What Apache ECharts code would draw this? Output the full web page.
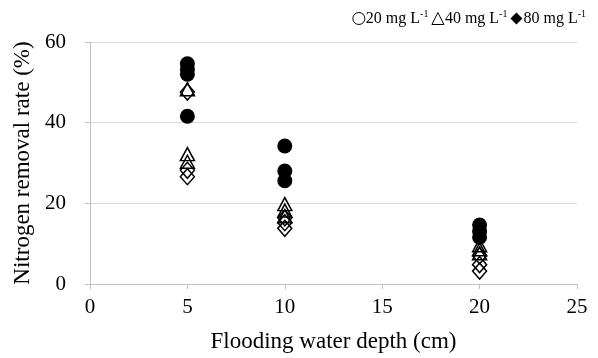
<!DOCTYPE html>
<html>
<head>
<meta charset="utf-8">
<script src="https://cdn.jsdelivr.net/npm/echarts@6/dist/echarts.min.js"></script>
<style>html,body{margin:0;padding:0;background:#fff}#c{width:598px;height:358px}</style>
</head>
<body>
<div id="c"></div>
<script>
const depths = [5, 10, 20];
const legendNames = ['20 mg L-1', '40 mg L-1', '80 mg L-1'];
// replicate values per depth (rows follow depths)
const circleRates = [[54.6, 53.2, 52.0, 41.6], [34.2, 28.0, 25.6], [14.6, 13.0, 11.6]];
const triangleRates = [[48.3, 32.2, 30.3], [19.8, 18.2, 16.8], [9.6, 8.6, 7.6]];
const diamondRates = [[47.6, 28.2, 26.6], [16.4, 15.2, 13.8], [7.0, 4.8, 3.2]];
const xTicks = [0, 5, 10, 15, 20, 25];
const yTicks = [0, 20, 40, 60];

function pairs(rows) {
  const out = [];
  rows.forEach((vals, i) => vals.forEach(v => out.push([depths[i], v])));
  return out;
}
const serif = '"Liberation Serif", "Times New Roman", serif';
const chart = echarts.init(document.getElementById('c'), null, {renderer: 'canvas'});
chart.setOption({
  animation: false,
  grid: {left: 90, right: 21, top: 42, bottom: 66},
  legend: {
    right: 7, top: 4, itemWidth: 12, itemHeight: 12, itemGap: 3,
    data: [
      {name: legendNames[0], icon: 'circle', itemStyle: {color: '#fff', borderColor: '#000', borderWidth: 1}},
      {name: legendNames[1], icon: 'triangle', itemStyle: {color: '#fff', borderColor: '#000', borderWidth: 1}},
      {name: legendNames[2], icon: 'diamond', itemStyle: {color: '#000', borderColor: '#000', borderWidth: 0}}
    ],
    formatter: n => n.replace('-1', '') + '{sup|-1}',
    textStyle: {fontFamily: serif, fontSize: 16, color: '#000', padding: [0, 0, 0, -4],
      rich: {sup: {fontFamily: serif, fontSize: 10, color: '#000', verticalAlign: 'top', padding: [0, 0, 9, 0]}}}
  },
  xAxis: {
    type: 'value', min: 0, max: 25, interval: 5,
    name: 'Flooding water depth (cm)', nameLocation: 'middle', nameGap: 46,
    nameTextStyle: {fontFamily: serif, fontSize: 23, color: '#000'},
    axisLine: {show: true, lineStyle: {color: '#bfbfbf', width: 1}},
    axisTick: {show: true, inside: false, length: 5, lineStyle: {color: '#bfbfbf'}},
    axisLabel: {fontFamily: serif, fontSize: 21, color: '#000', margin: 13,
      formatter: v => xTicks.includes(v) ? String(v) : ''},
    splitLine: {show: false}
  },
  yAxis: {
    type: 'value', min: 0, max: 60, interval: 20,
    name: 'Nitrogen removal rate (%)', nameLocation: 'middle', nameGap: 46,
    nameTextStyle: {fontFamily: serif, fontSize: 23, color: '#000'},
    axisLine: {show: true, lineStyle: {color: '#bfbfbf', width: 1}},
    axisTick: {show: true, inside: false, length: 5, lineStyle: {color: '#bfbfbf'}},
    axisLabel: {fontFamily: serif, fontSize: 21, color: '#000', margin: 24,
      formatter: v => yTicks.includes(v) ? String(v) : ''},
    splitLine: {show: true, lineStyle: {color: '#d9d9d9', width: 1}}
  },
  series: [
    {name: legendNames[0], type: 'scatter', symbol: 'circle', symbolSize: 15,
      itemStyle: {color: '#000', opacity: 1}, data: pairs(circleRates), z: 3},
    {name: legendNames[1], type: 'scatter', symbol: 'triangle', symbolSize: [14, 13],
      itemStyle: {color: 'rgba(0,0,0,0)', borderColor: '#000', borderWidth: 1.5, opacity: 1}, data: pairs(triangleRates), z: 4},
    {name: legendNames[2], type: 'scatter', symbol: 'diamond', symbolSize: [14, 16],
      itemStyle: {color: 'rgba(0,0,0,0)', borderColor: '#000', borderWidth: 1.5, opacity: 1}, data: pairs(diamondRates), z: 4}
  ]
});
</script>
</body>
</html>
